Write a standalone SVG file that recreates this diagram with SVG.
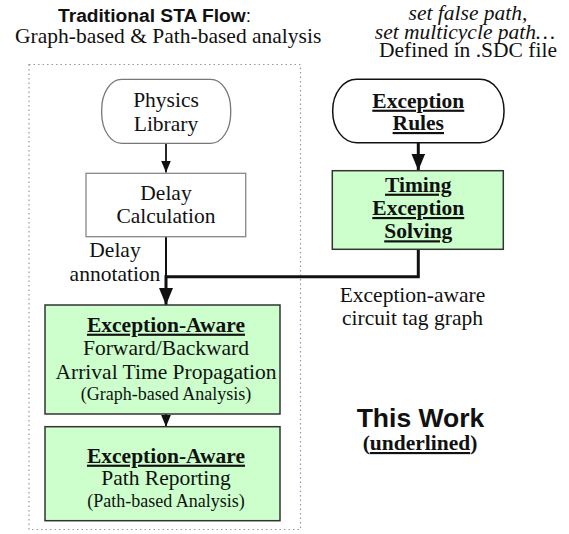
<svg xmlns="http://www.w3.org/2000/svg" width="569" height="534" viewBox="0 0 569 534">
  <style>
    .t { font-family: "Liberation Serif", "Times New Roman", serif; font-size: 21.5px; fill: #111; text-anchor: middle; }
    .b { font-weight: bold; }
    .u { text-decoration: underline; text-decoration-thickness: 2px; }
    .i { font-style: italic; }
    .s { font-size: 18px; }
    .h { font-family: "Liberation Sans", Arial, sans-serif; font-weight: bold; fill: #111; }
    .green { fill: #ccffcc; stroke: #333; stroke-width: 1.5; }
    .conn { fill: none; stroke: #111; }
  </style>
  <defs>
    <marker id="ah" markerUnits="userSpaceOnUse" markerWidth="12" markerHeight="10" refX="12" refY="5" orient="auto">
      <path d="M0,0 L12,5 L0,10 z" fill="#111"/>
    </marker>
    <marker id="ahb" markerUnits="userSpaceOnUse" markerWidth="17" markerHeight="14" refX="17" refY="7" orient="auto">
      <path d="M0,0 L17,7 L0,14 z" fill="#111"/>
    </marker>
  </defs>

  <rect id="bg" x="0" y="0" width="569" height="534" fill="#fff"/>

  <g id="titles">
    <text class="h" x="58" y="21.7" font-size="19.2">Traditional STA Flow<tspan font-weight="normal">:</tspan></text>
    <text class="t" x="15" y="43.3" style="text-anchor:start">Graph-based &amp; Path-based analysis</text>
    <text class="t" x="468" y="20"><tspan class="i" x="468" y="20">set false path,</tspan><tspan class="i" x="465" y="38.5">set multicycle path…</tspan><tspan x="468" y="57">Defined in .SDC file</tspan></text>
  </g>

  <g id="sta-frame">
    <rect x="29" y="64.5" width="271.5" height="465" fill="none" stroke="#999" stroke-width="1.2" stroke-dasharray="1.5 3"/>
  </g>

  <g id="connectors">
    <path class="conn" d="M166,143.3 V172.5" stroke-width="1.8" marker-end="url(#ah)"/>
    <path class="conn" d="M418.3,142.7 V170.5" stroke-width="3" marker-end="url(#ahb)"/>
    <path class="conn" d="M166,236.7 V276.7" stroke-width="2"/>
    <path class="conn" d="M418.3,249.3 V276.7 H166 V305" stroke-width="3" marker-end="url(#ahb)"/>
    <path class="conn" d="M166,414 V426.7" stroke-width="1.8" marker-end="url(#ah)"/>
  </g>

  <g id="physics-library">
    <rect x="101.7" y="79.3" width="129" height="64" rx="20" ry="30" fill="#fff" stroke="#777" stroke-width="1.3"/>
    <text class="t" x="166" y="106.7">Physics</text>
    <text class="t" x="166" y="130.7">Library</text>
  </g>

  <g id="delay-calculation">
    <rect x="86" y="173.3" width="159.7" height="63.4" fill="#fff" stroke="#888" stroke-width="1.3"/>
    <text class="t" x="166" y="200">Delay</text>
    <text class="t" x="166" y="223.3">Calculation</text>
  </g>

  <g id="delay-annotation-label">
    <text class="t" x="115" y="256.7">Delay</text>
    <text class="t" x="115" y="280.7">annotation</text>
  </g>

  <g id="exception-rules">
    <rect x="332.7" y="79.3" width="171.3" height="63.4" rx="24" ry="31" fill="#fff" stroke="#111" stroke-width="1.5"/>
    <text class="t b u" x="418.3" y="107.7">Exception</text>
    <text class="t b u" x="418.3" y="130">Rules</text>
  </g>

  <g id="timing-exception-solving">
    <rect class="green" x="332.3" y="170.7" width="171" height="78.6"/>
    <text class="t b u" x="418.3" y="191.7">Timing</text>
    <text class="t b u" x="418.3" y="215">Exception</text>
    <text class="t b u" x="418.3" y="238.3">Solving</text>
  </g>

  <g id="tag-graph-label">
    <text class="t" x="412.5" y="301.7">Exception-aware</text>
    <text class="t" x="412.5" y="325">circuit tag graph</text>
  </g>

  <g id="graph-analysis">
    <rect class="green" x="45" y="305" width="235" height="109"/>
    <text class="t b u" x="166" y="331.7">Exception-Aware</text>
    <text class="t" x="166" y="355">Forward/Backward</text>
    <text class="t" x="166" y="379">Arrival Time Propagation</text>
    <text class="t s" x="166" y="400">(Graph-based Analysis)</text>
  </g>

  <g id="path-reporting">
    <rect class="green" x="45" y="426.7" width="235" height="94"/>
    <text class="t b u" x="166" y="462.7">Exception-Aware</text>
    <text class="t" x="166" y="485">Path Reporting</text>
    <text class="t s" x="166" y="506.7">(Path-based Analysis)</text>
  </g>

  <g id="this-work">
    <text class="h" x="420.5" y="426.7" font-size="26.5" text-anchor="middle">This Work</text>
    <text class="t b" x="420" y="450">(<tspan class="u">underlined</tspan>)</text>
  </g>
</svg>
